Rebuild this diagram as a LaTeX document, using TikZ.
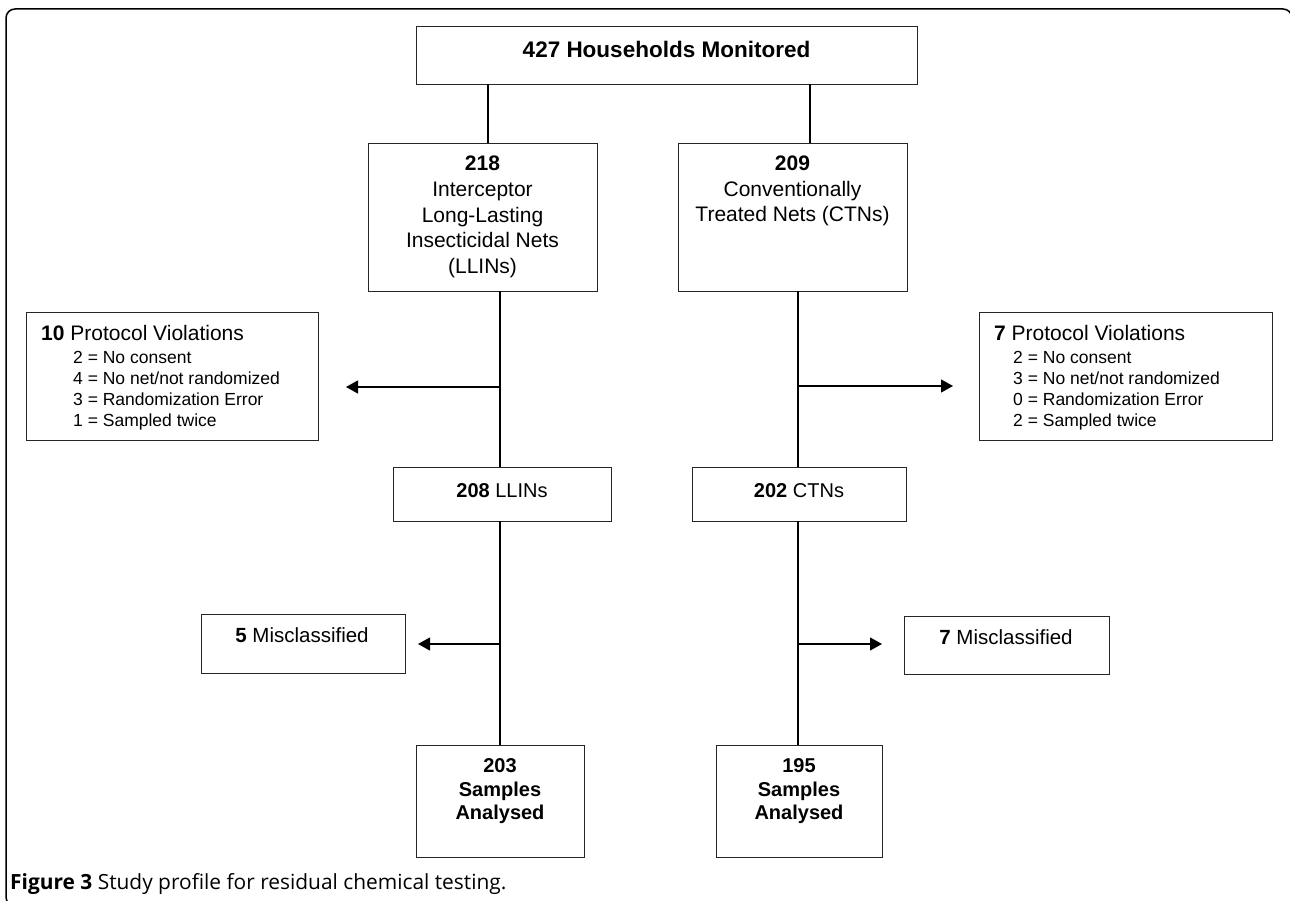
\documentclass[tikz,border=0pt]{standalone}
\usepackage{fontspec}
\setmainfont{Liberation Sans}
\newfontfamily\capfont{Open Sans}
\usetikzlibrary{arrows.meta}
\tikzset{
  box/.style={draw=black!85, line width=0.9pt, inner sep=0pt, fill=white},
  conn/.style={draw=black, line width=1.1pt},
  arr/.style={conn, -{Triangle[length=12pt,width=13pt]}},
  big/.style={font=\fontsize{21}{25.7}\selectfont, align=center, inner sep=0pt},
  mid/.style={font=\fontsize{20}{24}\selectfont, align=center, inner sep=0pt},
  head/.style={font=\fontsize{21}{25}\selectfont, inner sep=0pt, anchor=base west},
  item/.style={font=\fontsize{17.5}{21}\selectfont, inner sep=0pt, anchor=base west},
}
\begin{document}
\begin{tikzpicture}[x=1pt,y=-1pt]
\useasboundingbox (0,0) rectangle (1290,901);
% frame
\draw[line width=1.5pt, rounded corners=9pt] (6,9) rectangle (1292,906);

% boxes
\node[box, minimum width=501pt, minimum height=58pt] (top) at (666.5,55) {};
\node[inner sep=0pt, font=\fontsize{22.5}{27}\selectfont\bfseries] (toptxt) at (666.5,49) {427 Households Monitored};

\node[box, big, minimum width=229pt, minimum height=148pt] (b218) at (482.5,217)
  {\textbf{218}\\Interceptor\\Long-Lasting\\Insecticidal Nets\\(LLINs)};
\node[box, minimum width=229pt, minimum height=148pt] (b209) at (792.5,217) {};
\node[big, anchor=north] (t209) at (792.5,155.5) {\textbf{209}\\Conventionally\\Treated Nets (CTNs)};

\node[box, minimum width=292pt, minimum height=128pt] (pvL) at (172,376) {};
\node[head] (pvLh) at (41,340.5) {\textbf{10} Protocol Violations};
\node[item] (pvL1) at (73,363.3) {2 = No consent};
\node[item] (pvL2) at (73,384.3) {4 = No net/not randomized};
\node[item] (pvL3) at (73,405.3) {3 = Randomization Error};
\node[item] (pvL4) at (73,426.3) {1 = Sampled twice};

\node[box, minimum width=293pt, minimum height=128pt] (pvR) at (1125.5,376) {};
\node[head] (pvRh) at (994,340.5) {\textbf{7} Protocol Violations};
\node[item] (pvR1) at (1013,363.3) {2 = No consent};
\node[item] (pvR2) at (1013,384.3) {3 = No net/not randomized};
\node[item] (pvR3) at (1013,405.3) {0 = Randomization Error};
\node[item] (pvR4) at (1013,426.3) {2 = Sampled twice};

\node[box, minimum width=218pt, minimum height=54pt] (b208) at (502,494) {};
\node[mid] (t208) at (502,491) {\textbf{208} LLINs};
\node[box, minimum width=214pt, minimum height=54pt] (b202) at (799,494) {};
\node[mid] (t202) at (799,491) {\textbf{202} CTNs};

\node[box, minimum width=204pt, minimum height=59pt] (misL) at (303,643.5) {};
\node[mid, font=\fontsize{20.5}{24}\selectfont] (tmisL) at (302,635.5) {\textbf{5} Misclassified};
\node[box, minimum width=205pt, minimum height=58pt] (misR) at (1006.5,645) {};
\node[mid, font=\fontsize{20.5}{24}\selectfont] (tmisR) at (1006,637.5) {\textbf{7} Misclassified};

\node[box, minimum width=168pt, minimum height=112pt] (samL) at (500,801) {};
\node[mid, font=\fontsize{20}{23.5}\selectfont\bfseries, anchor=north] (tsamL) at (500,758.8) {203\\Samples\\Analysed};
\node[box, minimum width=166pt, minimum height=112pt] (samR) at (799,801) {};
\node[mid, font=\fontsize{20}{23.5}\selectfont\bfseries, anchor=north] (tsamR) at (799,758.8) {195\\Samples\\Analysed};

% connectors
\draw[conn] ([xshift=5.5pt]b218.north |- top.south) -- ([xshift=5.5pt]b218.north);
\draw[conn] ([xshift=17.5pt]b209.north |- top.south) -- ([xshift=17.5pt]b209.north);

\coordinate (jL1) at (500,387);
\coordinate (jR1) at (798,386);
\coordinate (tipL1) at (346,387);
\coordinate (tipR1) at (953,386);
\coordinate (jL2) at (500,644);
\coordinate (jR2) at (798,644);
\coordinate (tipL2) at (418,644);
\coordinate (tipR2) at (882,644);

\draw[conn] (b218.south -| jL1) -- (b208.north -| jL1);
\draw[conn] (b209.south -| jR1) -- (b202.north -| jR1);
\draw[conn] (b208.south -| jL1) -- (samL.north -| jL1);
\draw[conn] (b202.south -| jR1) -- (samR.north -| jR1);
\draw[arr] (jL1) -- (tipL1);
\draw[arr] (jR1) -- (tipR1);
\draw[arr] (jL2) -- (tipL2);
\draw[arr] (jR2) -- (tipR2);

% caption
\node[inner sep=0pt, anchor=base west, font=\capfont\fontsize{20.9}{24}\selectfont] (cap) at (10,889)
  {\textbf{Figure 3} Study profile for residual chemical testing.};
\end{tikzpicture}
\end{document}
